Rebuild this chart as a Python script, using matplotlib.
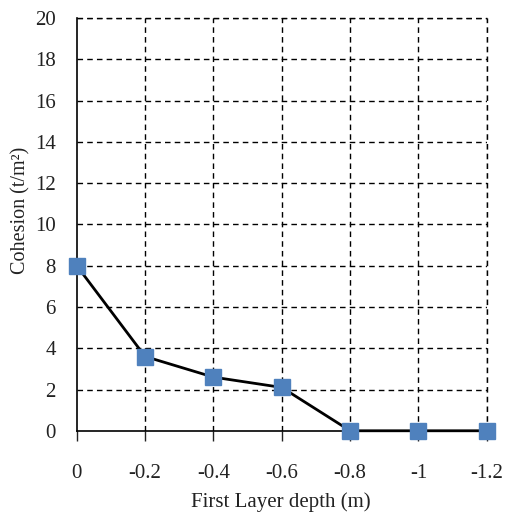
import matplotlib
matplotlib.use("Agg")
import matplotlib.pyplot as plt

depth = [0, -0.2, -0.4, -0.6, -0.8, -1.0, -1.2]
cohesion = [8.0, 3.6, 2.6, 2.1, 0.0, 0.0, 0.0]
xticks = [0, -0.2, -0.4, -0.6, -0.8, -1, -1.2]
xticklabels = ["0", "-0.2", "-0.4", "-0.6", "-0.8", "-1", "-1.2"]
yticks = list(range(0, 21, 2))

plt.rcParams['font.family'] = ['Liberation Serif', 'DejaVu Serif']

fig = plt.figure(figsize=(5.05, 5.19), dpi=100)
ax = fig.add_axes([0.152, 0.170, 0.812, 0.795])

ax.plot(depth, cohesion, color='black', linewidth=2, zorder=3, clip_on=False)
ax.plot(depth, cohesion, linestyle='none', marker='s', markersize=11,
        markerfacecolor='#4F81BD', markeredgecolor='#4F81BD', zorder=4, clip_on=False)

ax.set_xlim(0, -1.2)
ax.set_ylim(0, 20)
ax.set_xticks(xticks)
ax.set_xticklabels(xticklabels)
ax.set_yticks(yticks)

ax.grid(True, color='black', linestyle=(0, (4, 3)), linewidth=1)
ax.set_axisbelow(True)
# the axis lines sit on top of the first grid lines
ax.get_xgridlines()[0].set_visible(False)
ax.get_ygridlines()[0].set_visible(False)
for s in ['top', 'right']:
    ax.spines[s].set_visible(False)
for s in ['left', 'bottom']:
    ax.spines[s].set_color('black')
    ax.spines[s].set_linewidth(1.2)

ax.tick_params(axis='x', direction='out', length=7, width=1, pad=17, labelsize=15, colors='#222222')
ax.tick_params(axis='y', length=0, pad=15, labelsize=15, colors='#222222')

# close the plot area with dashed lines like the original
ax.axhline(20, color='black', linestyle=(0, (4, 3)), linewidth=1, clip_on=False)
ax.axvline(-1.2, color='black', linestyle=(0, (4, 3)), linewidth=1, clip_on=False)

ax.set_xlabel('First Layer depth (m)', fontsize=15, color='#222222')
ax.set_ylabel('Cohesion (t/m²)', fontsize=14.5, color='#222222')
ax.xaxis.set_label_coords(0.498, -0.172)
ax.yaxis.set_label_coords(-0.137, 0.535)
ax.xaxis.label.set_va('center')
ax.yaxis.label.set_va('center')

fig.savefig('out.png', dpi=100)
